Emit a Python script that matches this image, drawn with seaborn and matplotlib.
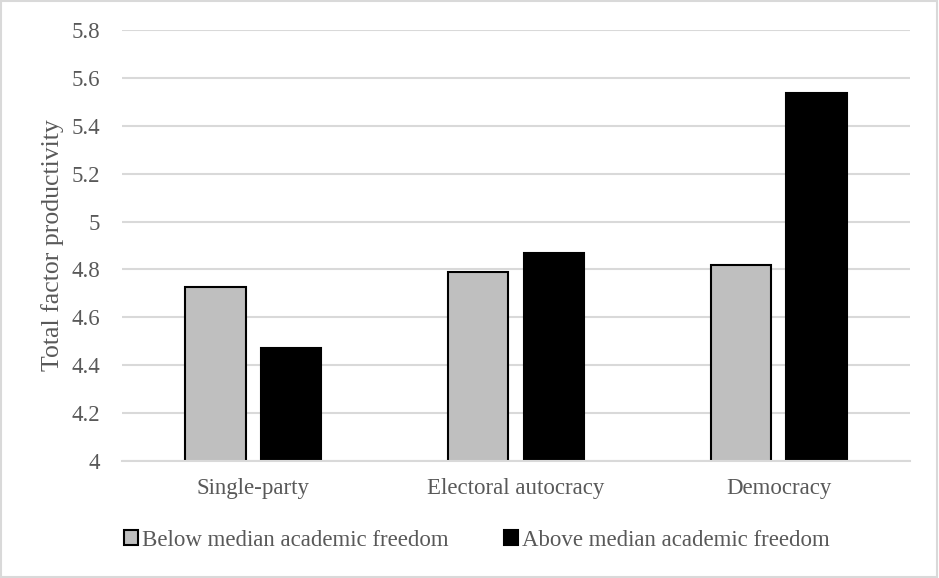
import pandas as pd
import seaborn as sns
import matplotlib.pyplot as plt
from matplotlib.patches import Rectangle

# Data
regimes = ["Single-party", "Electoral autocracy", "Democracy"]
below_median = [4.725, 4.79, 4.817]
above_median = [4.47, 4.87, 5.535]
groups = ["Below median academic freedom", "Above median academic freedom"]
yticks = [4, 4.2, 4.4, 4.6, 4.8, 5, 5.2, 5.4, 5.6, 5.8]
ytick_labels = ["4", "4.2", "4.4", "4.6", "4.8", "5", "5.2", "5.4", "5.6", "5.8"]

df = pd.DataFrame({
    "regime": regimes * 2,
    "group": [groups[0]] * 3 + [groups[1]] * 3,
    "tfp": below_median + above_median,
})

sns.set_style("white")
plt.rcParams["font.family"] = ["Liberation Serif", "DejaVu Serif"]
text_col = "#595959"
grid_col = "#D9D9D9"

fig = plt.figure(figsize=(9.39, 5.78), dpi=100)
ax = fig.add_axes([122 / 939, 117 / 578, (910 - 122) / 939, (461 - 30) / 578])

sns.barplot(data=df, x="regime", y="tfp", hue="group", order=regimes,
            hue_order=groups, palette=["#BFBFBF", "#000000"],
            width=0.574, gap=0.2, edgecolor="black", linewidth=1.5,
            legend=False, ax=ax)

# --- Axes styling ---
ax.set_ylim(4, 5.8)
ax.set_xlim(-0.5, 2.5)
ax.set_yticks(yticks)
ax.set_yticklabels(ytick_labels)
ax.yaxis.grid(True, color=grid_col, linewidth=1.5)
ax.set_axisbelow(True)
for s in ["top", "right", "left"]:
    ax.spines[s].set_visible(False)
ax.spines["bottom"].set_color(grid_col)
ax.spines["bottom"].set_linewidth(1.5)
ax.tick_params(length=0, labelsize=16.5, labelcolor=text_col)
ax.tick_params(axis="y", pad=16)
ax.tick_params(axis="x", pad=12)
ax.set_xlabel("")
ax.set_ylabel("Total factor productivity", fontsize=18.5, color=text_col, labelpad=5)

# --- Legend ---
handles = [Rectangle((0, 0), 1, 1, facecolor=c, edgecolor="black", linewidth=1.5)
           for c in ["#BFBFBF", "#000000"]]
fig.legend(handles, groups, loc="center", bbox_to_anchor=(0.508, 1 - 540 / 578),
           ncol=2, frameon=False, fontsize=16.5, labelcolor=text_col,
           handlelength=0.6, handleheight=0.6, handletextpad=0.2,
           columnspacing=2.4)

# chart border
fig.patches.append(Rectangle((0.001, 0.001), 0.997, 0.997, transform=fig.transFigure,
                             fill=False, edgecolor=grid_col, linewidth=1.5))

plt.savefig("out.png", dpi=100)
plt.close()
